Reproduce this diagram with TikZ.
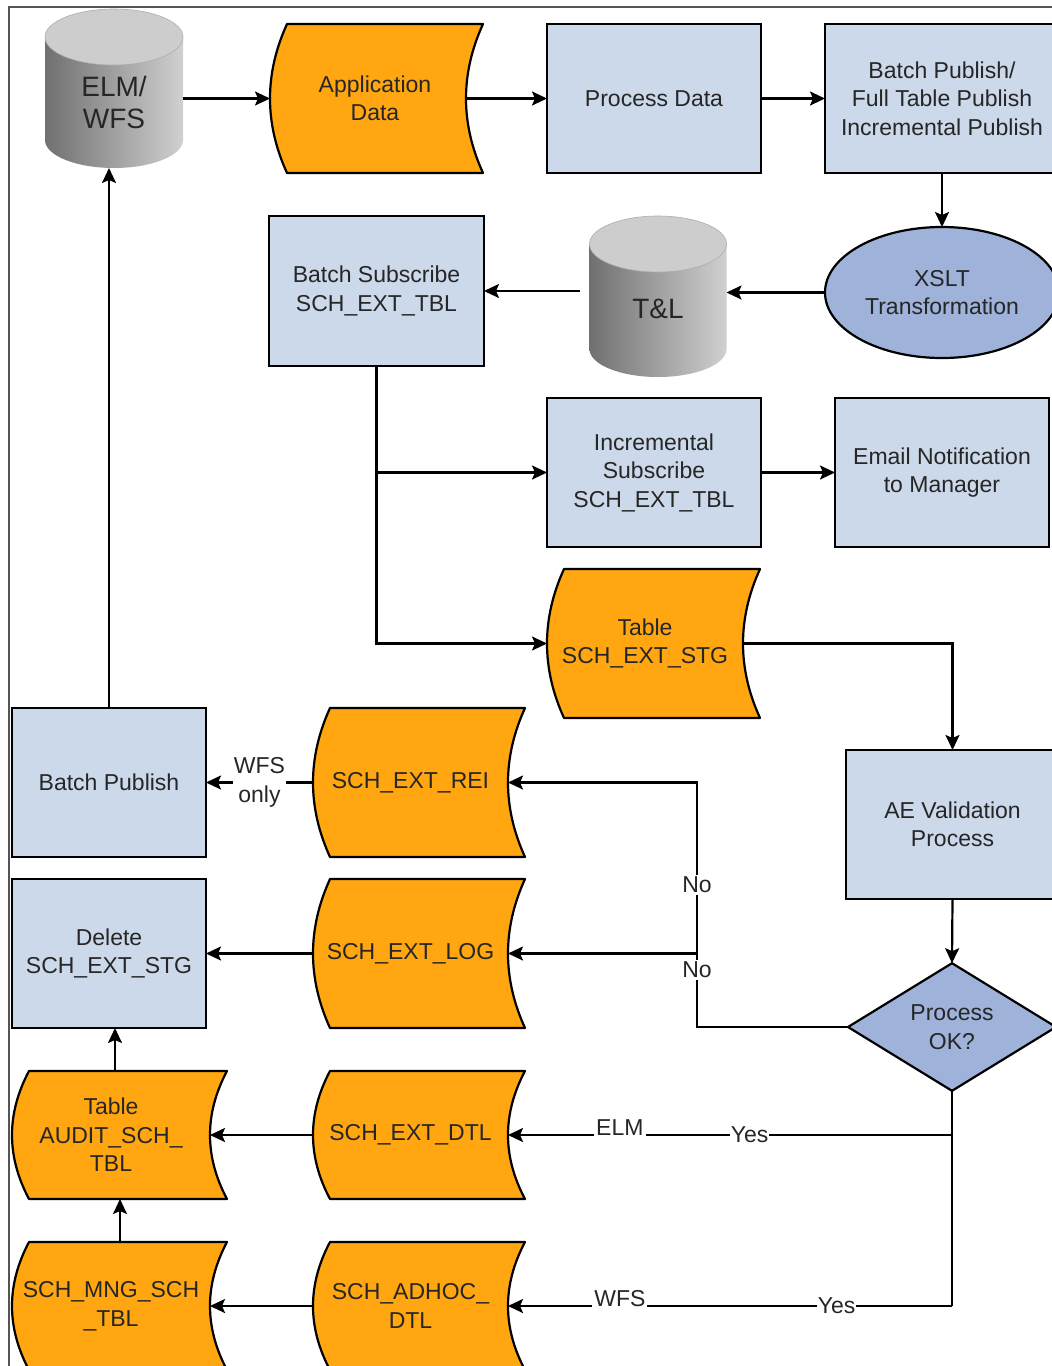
\documentclass[tikz,border=0pt]{standalone}
\usepackage{fontspec}
\setmainfont{Liberation Sans}
\usetikzlibrary{shapes.geometric,arrows.meta,calc}
\definecolor{boxblue}{RGB}{204,217,235}
\definecolor{darkblue}{RGB}{158,178,218}
\definecolor{orng}{RGB}{255,166,17}
\definecolor{txt}{RGB}{38,38,38}
\definecolor{cylL}{RGB}{112,112,112}
\definecolor{cylM}{RGB}{165,165,165}
\definecolor{cylR}{RGB}{208,208,208}
\definecolor{cylTop}{RGB}{205,205,205}
\definecolor{framec}{RGB}{85,85,85}

\newcommand\tapenode[7][]{%
  \draw[tapeline] ({#3+17},#5) -- ({#4+17},#5)
     .. controls ({#4+17-22.67},{#5+(#6-#5)/3}) and ({#4+17-22.67},{#6-(#6-#5)/3}) .. ({#4+17},#6)
     -- ({#3+17},#6)
     .. controls ({#3+17-22.67},{#6-(#6-#5)/3}) and ({#3+17-22.67},{#5+(#6-#5)/3}) .. cycle;
  \node[tapetext, minimum width={#4-#3}, minimum height={#6-#5}, #1] (#2) at ({(#3+#4)/2},{(#5+#6)/2}) {#7};
}
\newcommand\cylnode[8]{%
  \shade[left color=cylL, middle color=cylM, right color=cylR]
     ({#2-#5},{#3+#6}) -- ({#2-#5},{#4-#6})
     arc[start angle=180,end angle=0,x radius=#5,y radius=#6]
     -- ({#2+#5},{#3+#6}) -- cycle;
  \filldraw[fill=cylTop, draw=cylTop!85!black, line width=0.6pt] (#2,{#3+#6}) ellipse[x radius=#5, y radius=#6];
  \node[inner sep=0pt, outer sep=0pt, minimum width={2*#5}, minimum height={#4-#3}] (#1) at (#2,{(#3+#4)/2}) {};
  \node[cyltext] (#1-t) at (#2,#7) {#8};
}

\tikzset{
  mainfont/.style={font=\fontsize{23}{28.5}\selectfont, text=txt},
  box/.style={rectangle, draw=black, line width=2.2pt, fill=boxblue, inner sep=0pt, outer sep=0pt, align=center, mainfont},
  tapeline/.style={fill=orng, draw=black, line width=2.2pt, line join=round},
  tapetext/.style={rectangle, inner sep=0pt, outer sep=0pt, align=center, mainfont},
  cyltext/.style={align=center, inner sep=0pt, font=\fontsize{28}{32}\selectfont, text=txt},
  conn/.style={draw=black, line width=2.2pt},
  arr/.style={conn, -{Stealth[length=15pt,width=14pt,inset=3pt]}},
  lbl/.style={fill=white, inner sep=2pt, mainfont},
}

\begin{document}
\begin{tikzpicture}[x=1pt,y=-1pt]
\useasboundingbox (0,0) rectangle (1052,1366);
\fill[white] (0,0) rectangle (1052,1366);
\draw[framec, line width=1.5pt] (9,1366) -- (9,7) -- (1052,7);

% cylinders
\cylnode{elm}{114}{9}{168}{69}{28}{102}{ELM/\\WFS}
\cylnode{tl}{658}{216}{377}{68.5}{28}{309}{T\&L}

% tapes (stored data)
\tapenode[xshift=7pt]{app}{270}{466}{24}{173}{Application\\Data}
\tapenode{stg}{547}{743}{569}{718}{Table\\SCH\_EXT\_STG}
\tapenode{rei}{313}{508}{708}{857}{SCH\_EXT\_REI}
\tapenode{log}{313}{508}{879}{1028}{SCH\_EXT\_LOG}
\tapenode{dtl}{313}{508}{1071}{1199}{SCH\_EXT\_DTL}
\tapenode{adh}{313}{508}{1242}{1370}{SCH\_ADHOC\_\\DTL}
\tapenode{aud}{12}{210}{1071}{1199}{Table\\AUDIT\_SCH\_\\TBL}
\tapenode{mng}{12}{210}{1242}{1370}{SCH\_MNG\_SCH\\\_TBL}

% boxes
\node[box, minimum width=214pt, minimum height=149pt] (procd) at (654,98.5) {Process Data};
\node[box, minimum width=234pt, minimum height=149pt] (bpub) at (942,98.5) {Batch Publish/\\Full Table Publish\\Incremental Publish};
\node[ellipse, draw=black, line width=2.2pt, fill=darkblue, inner sep=0pt, outer sep=0pt, minimum width=234pt, minimum height=131pt, align=center, mainfont] (xslt) at (942,292.5) {XSLT\\Transformation};
\node[box, minimum width=215pt, minimum height=150pt] (bs) at (376.5,291) {Batch Subscribe\\SCH\_EXT\_TBL};
\node[box, minimum width=214pt, minimum height=149pt] (inc) at (654,472.5) {Incremental\\Subscribe\\SCH\_EXT\_TBL};
\node[box, minimum width=214pt, minimum height=149pt] (email) at (942,472.5) {Email Notification\\to Manager};
\node[box, minimum width=213pt, minimum height=149pt] (ae) at (952.5,824.5) {AE Validation\\Process};
\node[diamond, draw=black, line width=2.2pt, fill=darkblue, inner sep=0pt, outer sep=0pt, minimum width=208pt, minimum height=126pt, align=center, mainfont] (dia) at (952,1027) {Process\\OK?};
\node[box, minimum width=194pt, minimum height=149pt] (bpl) at (109,782.5) {Batch Publish};
\node[box, minimum width=194pt, minimum height=149pt] (del) at (109,953.5) {Delete\\SCH\_EXT\_STG};

% top flow
\draw[arr] (elm.east |- app.west) -- ([xshift=-7pt]app.west);
\draw[arr] ([xshift=-7pt]app.east) -- (procd.west);
\draw[arr] (procd.east) -- (bpub.west);
\draw[arr] (bpub.south) -- (xslt.north);
\draw[arr] (xslt.west) -- (tl.east |- xslt.west);
\draw[arr, shorten <=10pt] (tl.west |- bs.east) -- (bs.east);
\draw[arr] (bs.south) |- (inc.west);
\draw[arr] (bs.south) |- (stg.west);
\draw[arr] (inc.east) -- (email.west);
\draw[arr] (stg.east) -| (ae.north);
\draw[arr] (ae.south) -- (dia.north);

% No branches
\coordinate (jN1) at (697,1027);
\coordinate (jN2) at (jN1 |- log.east);
\coordinate (jN3) at (jN1 |- rei.east);
\draw[conn] (dia.west) -- (jN1) -- node[lbl, pos=0.78] {No} (jN2);
\draw[arr] (jN2) -- (log.east);
\draw[arr] (jN2) -- node[lbl, pos=0.40] {No} (jN3) -- (rei.east);

% Yes branches
\coordinate (jY1) at (dia.south |- dtl.east);
\coordinate (jY2) at (dia.south |- adh.east);
\draw[conn] (dia.south) -- (jY2);
\draw[arr] (jY1) -- node[lbl, pos=0.456, inner sep=1pt] {Yes}
                    node[lbl, pos=0.748, anchor=south, yshift=-4pt, inner sep=2pt] {ELM} (dtl.east);
\draw[arr] (jY2) -- node[lbl, pos=0.26, inner sep=1pt] {Yes}
                    node[lbl, pos=0.748, anchor=south, yshift=-4pt, inner sep=2pt] {WFS} (adh.east);

% left column
\draw[arr] (rei.west) -- node[lbl, align=center, inner sep=1pt] {WFS\\only} (bpl.east);
\draw[arr] (log.west) -- (del.east);
\draw[arr] (dtl.west) -- (aud.east);
\draw[arr] (adh.west) -- (mng.east);
\draw[arr] ([xshift=4pt]aud.north) -- ([xshift=4pt]aud.north |- del.south);
\draw[arr] ([xshift=9pt]mng.north) -- ([xshift=9pt]mng.north |- aud.south);
\draw[arr] (bpl.north) -- (bpl.north |- elm.south);
\end{tikzpicture}
\end{document}
